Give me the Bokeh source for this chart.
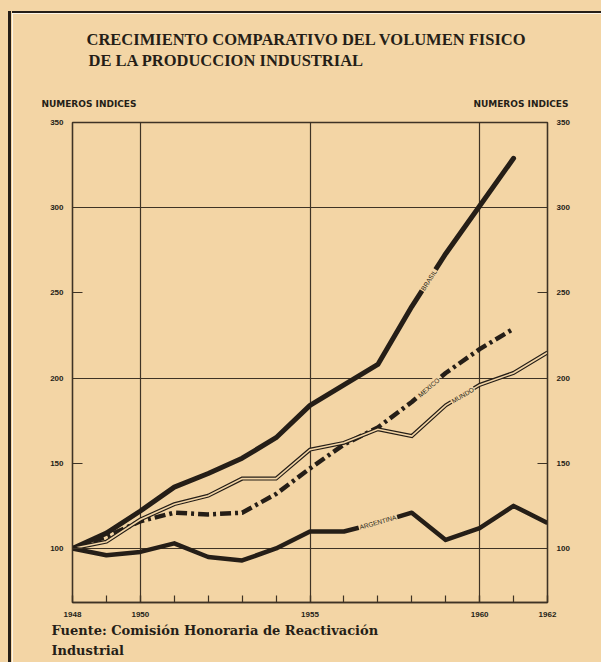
import math
from bokeh.plotting import figure
from bokeh.layouts import row, column
from bokeh.models import (Range1d, LinearAxis, FixedTicker, ColumnDataSource, Title, Spacer,
                          CustomJSTickFormatter)
from bokeh.core.properties import value
from bokeh.embed import file_html
from bokeh.resources import INLINE

# ---- data ----
years = [1948, 1949, 1950, 1951, 1952, 1953, 1954, 1955, 1956, 1957, 1958, 1959, 1960, 1961, 1962]
brasil = [100, 109, 122, 136, 144, 153, 165, 184, 196, 208, 242, 273, 301, 329]
mexico = [100, 107, 116, 121, 120, 121, 132, 147, 161, 171, 186, 203, 217, 229]
mundo = [100, 104, 117, 126, 131, 141, 141, 158, 162, 170, 166, 184, 196, 203, 215]
argentina = [100, 96, 98, 103, 95, 93, 100, 110, 110, 115, 121, 105, 112, 125, 115]

y_ticks = [100, 150, 200, 250, 300, 350]
x_label_years = [1948, 1950, 1955, 1960, 1962]
x_grid_years = [1950, 1955, 1960]
y_grid_values = [100, 200, 300]

# line labels: (text, series, from year, to year)
line_labels = [
    ("BRASIL", "brasil", 1958, 1959),
    ("MEXICO", "mexico", 1958, 1959),
    ("MUNDO", "mundo", 1959, 1960),
    ("ARGENTINA", "argentina", 1956, 1958),
]

title_1 = "CRECIMIENTO COMPARATIVO DEL VOLUMEN FISICO"
title_2 = "DE LA PRODUCCION INDUSTRIAL"
axis_title = "NUMEROS  INDICES"
source_1 = "Fuente: Comisión Honoraria de Reactivación"
source_2 = "Industrial"

# ---- style / layout ----
BG = "#F3D5A5"
INK = "#251e17"
GRID = "#3e3325"
PAGE_W, PAGE_H = 601, 662
STRIP, TOP = 12, 13             # left strip and top strip carrying the page frame lines
CW, CH = PAGE_W - STRIP, PAGE_H - TOP
FRAME_L, FRAME_R, FRAME_T, FRAME_B = 72, 547, 122, 602   # page pixels
ML, MR = FRAME_L - STRIP, PAGE_W - FRAME_R
MT, MB = FRAME_T - TOP, PAGE_H - FRAME_B
Y0, Y1 = 68.3, 350
tick_font = "Liberation Sans"

p = figure(width=CW, height=CH, output_backend="svg", toolbar_location=None, title_location=None,
           x_range=Range1d(years[0], years[-1]), y_range=Range1d(Y0, Y1),
           min_border_left=ML, min_border_right=MR, min_border_top=MT, min_border_bottom=MB,
           background_fill_color=BG, border_fill_color=BG, y_axis_location=None, x_axis_location=None)
p.outline_line_color = GRID
p.outline_line_width = 1.3

p.xgrid.ticker = FixedTicker(ticks=x_grid_years)
p.ygrid.ticker = FixedTicker(ticks=y_grid_values)
for g in (p.xgrid, p.ygrid):
    g.grid_line_color = GRID
    g.grid_line_width = 1.2


def style_axis(ax):
    ax.axis_line_color = GRID
    ax.axis_line_width = 1.3
    ax.major_tick_line_color = GRID
    ax.minor_tick_line_color = GRID
    ax.major_tick_line_width = 1.2
    ax.minor_tick_line_width = 1.2
    ax.major_tick_out = 0
    ax.minor_tick_out = 0
    ax.major_label_text_font = tick_font
    ax.major_label_text_font_style = "bold"
    ax.major_label_text_font_size = "8px"
    ax.major_label_text_color = INK


for side in ("left", "right"):
    ax = LinearAxis(ticker=FixedTicker(ticks=y_ticks))
    style_axis(ax)
    ax.major_tick_in = 10
    ax.minor_tick_in = 0
    ax.major_label_standoff = 9
    p.add_layout(ax, side)

xa = LinearAxis(ticker=FixedTicker(ticks=x_label_years, minor_ticks=years))
style_axis(xa)
xa.major_tick_in = 7
xa.minor_tick_in = 7
xa.major_label_standoff = 9
p.add_layout(xa, "below")

# "NUMEROS INDICES" above both value axes: tick labels of a bare top axis
px_per_x = (FRAME_R - FRAME_L) / (years[-1] - years[0])
px_per_y = (FRAME_B - FRAME_T) / (Y1 - Y0)
head_centres = [(90 - FRAME_L) / px_per_x + years[0], (522 - FRAME_L) / px_per_x + years[0]]
top_ax = LinearAxis(ticker=FixedTicker(ticks=head_centres, minor_ticks=[]),
                    formatter=CustomJSTickFormatter(args=dict(label=axis_title), code="return label"),
                    axis_label=" ", axis_label_standoff=12, axis_label_text_font_size="10px")
top_ax.axis_line_color = None
top_ax.major_tick_line_color = None
top_ax.minor_tick_line_color = None
top_ax.major_tick_in = 0
top_ax.major_tick_out = 0
top_ax.major_label_standoff = 14
top_ax.major_label_text_font = "DejaVu Sans"
top_ax.major_label_text_font_style = "bold"
top_ax.major_label_text_font_size = "9px"
top_ax.major_label_text_color = INK
p.add_layout(top_ax, "above")

# titles (stacked outward from the frame)
p.add_layout(Title(text=title_2, align="left", offset=16, standoff=0, vertical_align="bottom",
                   text_font="Liberation Serif", text_font_size="16.5px", text_font_style="bold",
                   text_color=INK), "above")
p.add_layout(Title(text=title_1, align="left", offset=14, standoff=0, vertical_align="bottom",
                   text_font="Liberation Serif", text_font_size="16.5px", text_font_style="bold",
                   text_color=INK), "above")
p.add_layout(Title(text=source_1, align="left", offset=-21, standoff=6, vertical_align="top",
                   text_font="DejaVu Serif", text_font_size="13px", text_font_style="bold",
                   text_color=INK), "below")
p.add_layout(Title(text=source_2, align="left", offset=-21, standoff=0, vertical_align="top",
                   text_font="DejaVu Serif", text_font_size="13px", text_font_style="bold",
                   text_color=INK), "below")

# series
n_br = len(brasil)
n_mx = len(mexico)
p.line(years[:n_br], brasil, line_width=5, color=INK, line_join="round", line_cap="round")
p.line(years[:n_mx], mexico, line_width=4.5, color=INK, line_dash="11 4 3 4", line_join="round")
p.line(years, mundo, line_width=4, color=INK, line_join="miter")
p.line(years, mundo, line_width=1.6, color=BG, line_join="miter")
p.line(years, argentina, line_width=4.5, color=INK, line_join="round")

series = {"brasil": brasil, "mexico": mexico, "mundo": mundo, "argentina": argentina}
lx, ly, la, lt = [], [], [], []
for text, key, a, b in line_labels:
    vals = series[key]
    va = vals[years.index(a)]
    vb = vals[years.index(b)]
    lx.append((a + b) / 2)
    ly.append((va + vb) / 2)
    la.append(math.atan2((vb - va) * px_per_y, (b - a) * px_per_x))
    lt.append(text)
src = ColumnDataSource(dict(x=lx, y=ly, angle=la, text=lt))
p.text(x="x", y="y", angle="angle", text="text", source=src,
       text_font=value(tick_font), text_font_size="6.5px", text_color=INK,
       text_align="center", text_baseline="middle",
       background_fill_color=BG, padding=1)

# scanned page frame lines (left and top edges)
left_strip = Spacer(width=STRIP, height=PAGE_H, styles={
    "background": f"linear-gradient(to bottom, {BG} 11px, transparent 11px), "
                  f"linear-gradient(to right, {BG} 8px, {INK} 8px, {INK} 11px, {BG} 11px)"})
top_strip = Spacer(width=CW, height=TOP, styles={
    "background": f"linear-gradient(to bottom, {BG} 11px, {INK} 11px, {INK} 13px)"})

layout = row(left_strip, column(top_strip, p, spacing=0), spacing=0)
open("out.html", "w").write(file_html(layout, INLINE))
